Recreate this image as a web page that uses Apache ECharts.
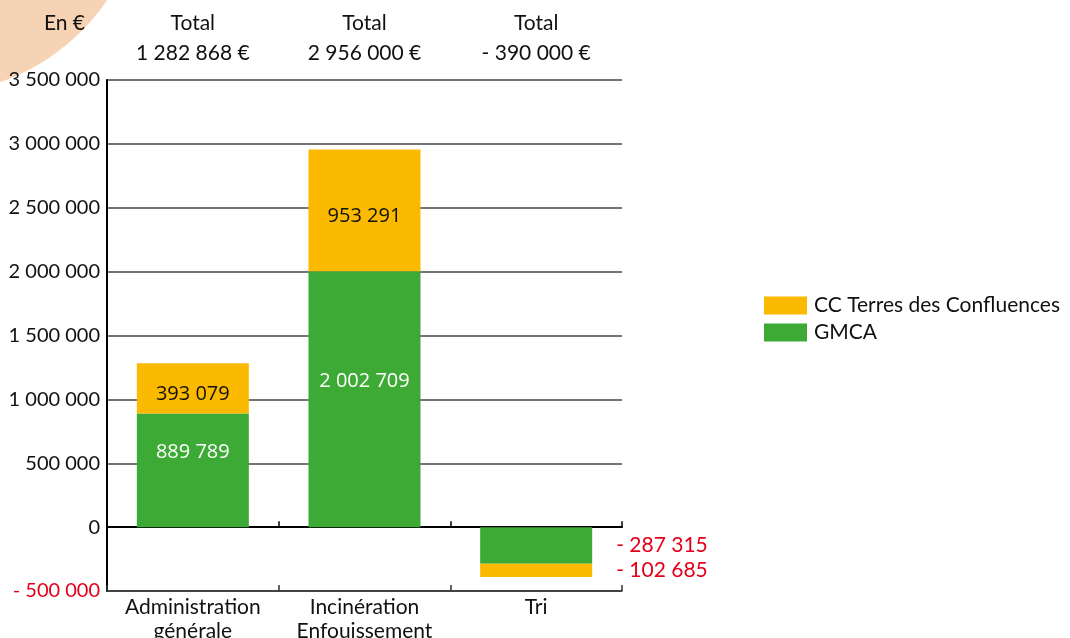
<!DOCTYPE html>
<html>
<head>
<meta charset="utf-8">
<script src="https://cdn.jsdelivr.net/npm/echarts@6/dist/echarts.min.js"></script>
<style>
    html, body { margin: 0; padding: 0; background: #fff; }
    #chart { width: 1070px; height: 638px; }
</style>
</head>
<body>
<div id="chart"></div>
<script>
// données
const categories = ['Administration\ngénérale', 'Incinération\nEnfouissement', 'Tri']
const gmca = [889789, 2002709, -287315]
const ccTerres = [393079, 953291, -102685]
const seriesNames = ['GMCA', 'CC Terres des Confluences']
const yTicks = { min: -500000, max: 3500000, step: 500000 }

const GREEN = '#3DAA35'
const YELLOW = '#FBB900'
const RED = '#E2001A'
const FONT = 'Lato'

// 1 282 868 / - 390 000
const fmt = (v) => {
    const s = Math.abs(Math.round(v)).toString().replace(/\B(?=(\d{3})+(?!\d))/g, ' ')
    return v < 0 ? '- ' + s : s
}
const totals = gmca.map((v, i) => v + ccTerres[i])

const barData = (values, insideColor, offset) => values.map(v => {
    if (v >= 0) {
        return { value: v, label: { position: 'inside', color: insideColor, offset: offset } }
    }
    return {
        value: v,
        label: { position: 'right', distance: 24, color: RED, fontFamily: FONT, fontSize: 21, offset: [0, 0] }
    }
})

const myChart = echarts.init(document.getElementById('chart'))
window.onresize = function () {
    myChart.resize()
}

myChart.setOption({
    animation: false,
    textStyle: { fontFamily: FONT },
    graphic: [
        {
            type: 'circle',
            z: -10,
            silent: true,
            shape: { cx: -70, cy: -120, r: 214 },
            style: { fill: '#F7D3B5' }
        }
    ],
    legend: {
        orient: 'vertical',
        left: 764,
        top: 295,
        padding: 0,
        itemWidth: 43,
        itemHeight: 18,
        itemGap: 6,
        icon: 'rect',
        data: [seriesNames[1], seriesNames[0]],
        textStyle: {
            fontFamily: FONT,
            fontSize: 21,
            color: '#111',
            padding: [0, 0, 0, 2]
        }
    },
    grid: {
        left: 107,
        right: 448,
        top: 80,
        bottom: 47,
        outerBoundsMode: 'none'
    },
    xAxis: [
        {
            // axe du bas avec libellés
            type: 'category',
            data: categories,
            position: 'bottom',
            axisLine: { onZero: false, lineStyle: { color: '#333', width: 1.5 } },
            axisTick: { show: true, inside: true, length: 6, lineStyle: { color: '#333', width: 1.5 } },
            axisLabel: {
                interval: 0,
                hideOverlap: false,
                fontFamily: FONT,
                fontSize: 21,
                color: '#111',
                lineHeight: 24,
                margin: 4
            },
            splitLine: { show: false }
        },
        {
            // ligne du zéro
            type: 'category',
            data: categories,
            position: 'bottom',
            axisLine: { onZero: true, lineStyle: { color: '#000', width: 2 } },
            axisTick: { show: true, inside: true, length: 6, lineStyle: { color: '#000', width: 1.5 } },
            axisLabel: { show: false },
            splitLine: { show: false }
        },
        {
            // totaux en haut
            type: 'category',
            data: totals.map(t => 'Total\n' + fmt(t) + ' €'),
            position: 'top',
            axisLine: { show: false },
            axisTick: { show: false },
            axisLabel: {
                interval: 0,
                fontFamily: FONT,
                fontSize: 21,
                color: '#111',
                lineHeight: 30,
                margin: 12
            },
            splitLine: { show: false }
        }
    ],
    yAxis: {
        type: 'value',
        min: yTicks.min,
        max: yTicks.max,
        interval: yTicks.step,
        name: 'En €',
        nameLocation: 'end',
        nameGap: 57,
        nameTextStyle: {
            fontFamily: FONT,
            fontSize: 21,
            color: '#111',
            align: 'right',
            verticalAlign: 'middle',
            padding: [0, 22, 0, 0]
        },
        axisLine: { show: true, lineStyle: { color: '#000', width: 2 } },
        axisTick: { show: false },
        axisLabel: {
            fontFamily: FONT,
            fontSize: 20,
            margin: 7,
            formatter: (v) => fmt(v),
            color: (v) => (v < 0 ? RED : '#111')
        },
        splitLine: { show: true, lineStyle: { color: '#444', width: 1.5 } }
    },
    series: [
        {
            name: seriesNames[0],
            type: 'bar',
            stack: 'total',
            barWidth: 112,
            itemStyle: { color: GREEN },
            label: {
                show: true,
                fontFamily: 'Open Sans',
                fontSize: 20,
                formatter: (p) => fmt(p.value)
            },
            data: barData(gmca, '#fff', [0, -18])
        },
        {
            name: seriesNames[1],
            type: 'bar',
            stack: 'total',
            barWidth: 112,
            itemStyle: { color: YELLOW },
            label: {
                show: true,
                fontFamily: 'Open Sans',
                fontSize: 20,
                formatter: (p) => fmt(p.value)
            },
            data: barData(ccTerres, '#111', [0, 6])
        }
    ]
})
</script>
</body>
</html>
